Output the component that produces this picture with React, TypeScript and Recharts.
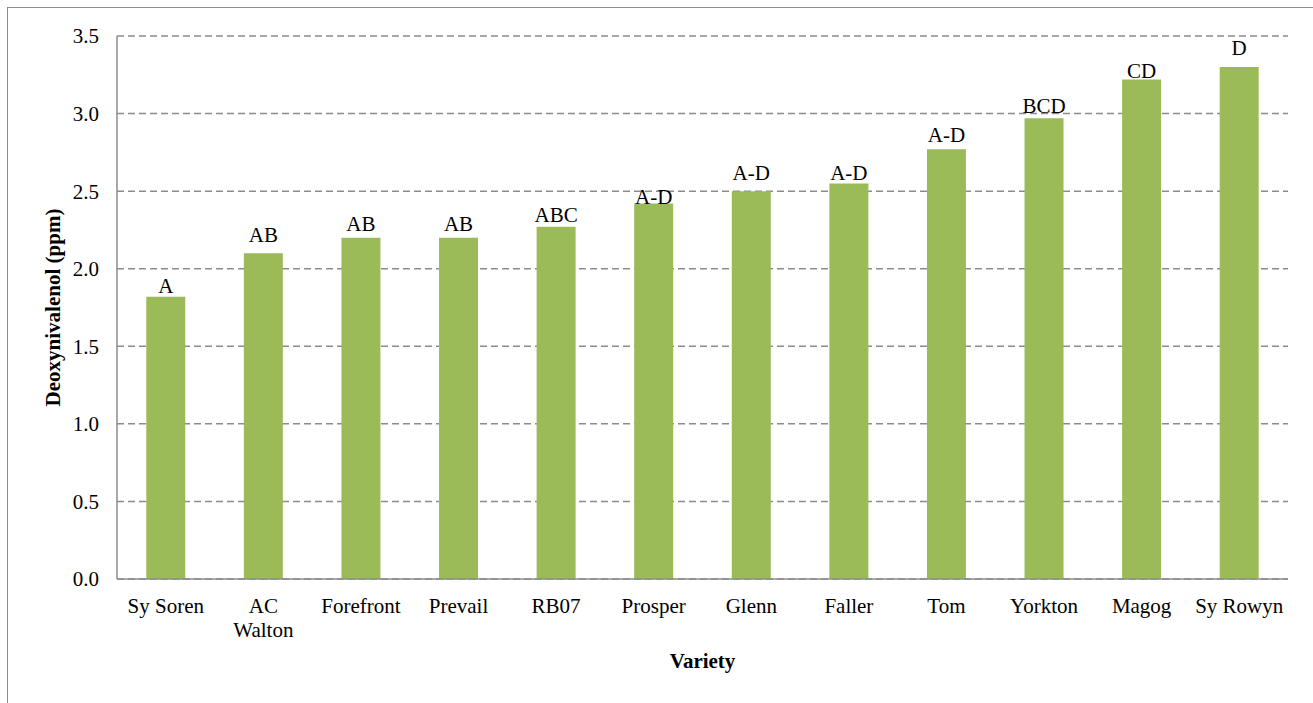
import { Bar, BarChart, CartesianGrid, LabelList, XAxis, YAxis } from "recharts";

const varieties = [
  "Sy Soren",
  "AC\nWalton",
  "Forefront",
  "Prevail",
  "RB07",
  "Prosper",
  "Glenn",
  "Faller",
  "Tom",
  "Yorkton",
  "Magog",
  "Sy Rowyn",
];
const donValues = [1.82, 2.1, 2.2, 2.2, 2.27, 2.42, 2.5, 2.55, 2.77, 2.97, 3.22, 3.3];
const groupLetters = ["A", "AB", "AB", "AB", "ABC", "A-D", "A-D", "A-D", "A-D", "BCD", "CD", "D"];
const yTicks = [0, 0.5, 1, 1.5, 2, 2.5, 3, 3.5];

// gap in px between bar top and letter baseline, as placed in the original
const letterGap = [4, 11, 7, 7, 5, 0, 11, 3, 7, 5, 1, 12];

const data = varieties.map((name, i) => ({
  name,
  don: donValues[i],
  letters: groupLetters[i],
}));

const FONT = "Liberation Serif, Times New Roman, serif";
const FS = 21;

function VarietyTick({ x, y, payload }: any) {
  const lines = String(payload.value).split("\n");
  return (
    <text x={x} y={y + 26} textAnchor="middle" fontFamily={FONT} fontSize={FS} fill="#000">
      {lines.map((l, i) => (
        <tspan key={i} x={x} dy={i === 0 ? 0 : 24}>
          {l}
        </tspan>
      ))}
    </text>
  );
}

function LetterLabel(props: any) {
  const { x, y, width, value, index } = props;
  const gap = letterGap[index] ?? 4;
  return (
    <text
      x={Number(x) + Number(width) / 2}
      y={Number(y) - gap}
      textAnchor="middle"
      fontFamily={FONT}
      fontSize={FS}
      fill="#000"
    >
      {value}
    </text>
  );
}

export default function App() {
  return (
    <div style={{ position: "absolute", left: 0, top: 0, width: 1313, height: 703, overflow: "hidden", background: "#fff" }}>
      <div
        style={{
          position: "absolute",
          left: 7,
          top: 7,
          width: 1340,
          height: 740,
          border: "1.5px solid #8c8c8c",
        }}
      />
      <div style={{ position: "absolute", left: 0, top: 0 }}>
        <BarChart
          width={1313}
          height={703}
          data={data}
          margin={{ top: 36, right: 25, left: 0, bottom: 0 }}
          barCategoryGap="30%"
        >
          <CartesianGrid stroke="#8c8c8c" strokeWidth={1.5} strokeDasharray="7 4" vertical={false} />
          <XAxis
            dataKey="name"
            interval={0}
            height={124}
            tickLine={false}
            axisLine={{ stroke: "#8c8c8c", strokeWidth: 1.5 }}
            tick={<VarietyTick />}
            label={{
              value: "Variety",
              position: "insideBottom",
              offset: 35,
              style: { fontFamily: FONT, fontSize: FS, fontWeight: "bold", fill: "#000" },
            }}
          />
          <YAxis
            width={117}
            domain={[0, 3.5]}
            ticks={yTicks}
            interval={0}
            tickLine={false}
            axisLine={{ stroke: "#8c8c8c", strokeWidth: 1.5 }}
            tickMargin={12}
            tickFormatter={(v) => Number(v).toFixed(1)}
            tick={{ fontFamily: FONT, fontSize: FS, fill: "#000" }}
            label={{
              value: "Deoxynivalenol (ppm)",
              angle: -90,
              position: "insideLeft",
              offset: 53,
              style: { fontFamily: FONT, fontSize: FS, fontWeight: "bold", fill: "#000", textAnchor: "middle" },
            }}
          />
          <Bar dataKey="don" fill="#9BBB59" isAnimationActive={false}>
            <LabelList dataKey="letters" content={<LetterLabel />} />
          </Bar>
        </BarChart>
      </div>
    </div>
  );
}
